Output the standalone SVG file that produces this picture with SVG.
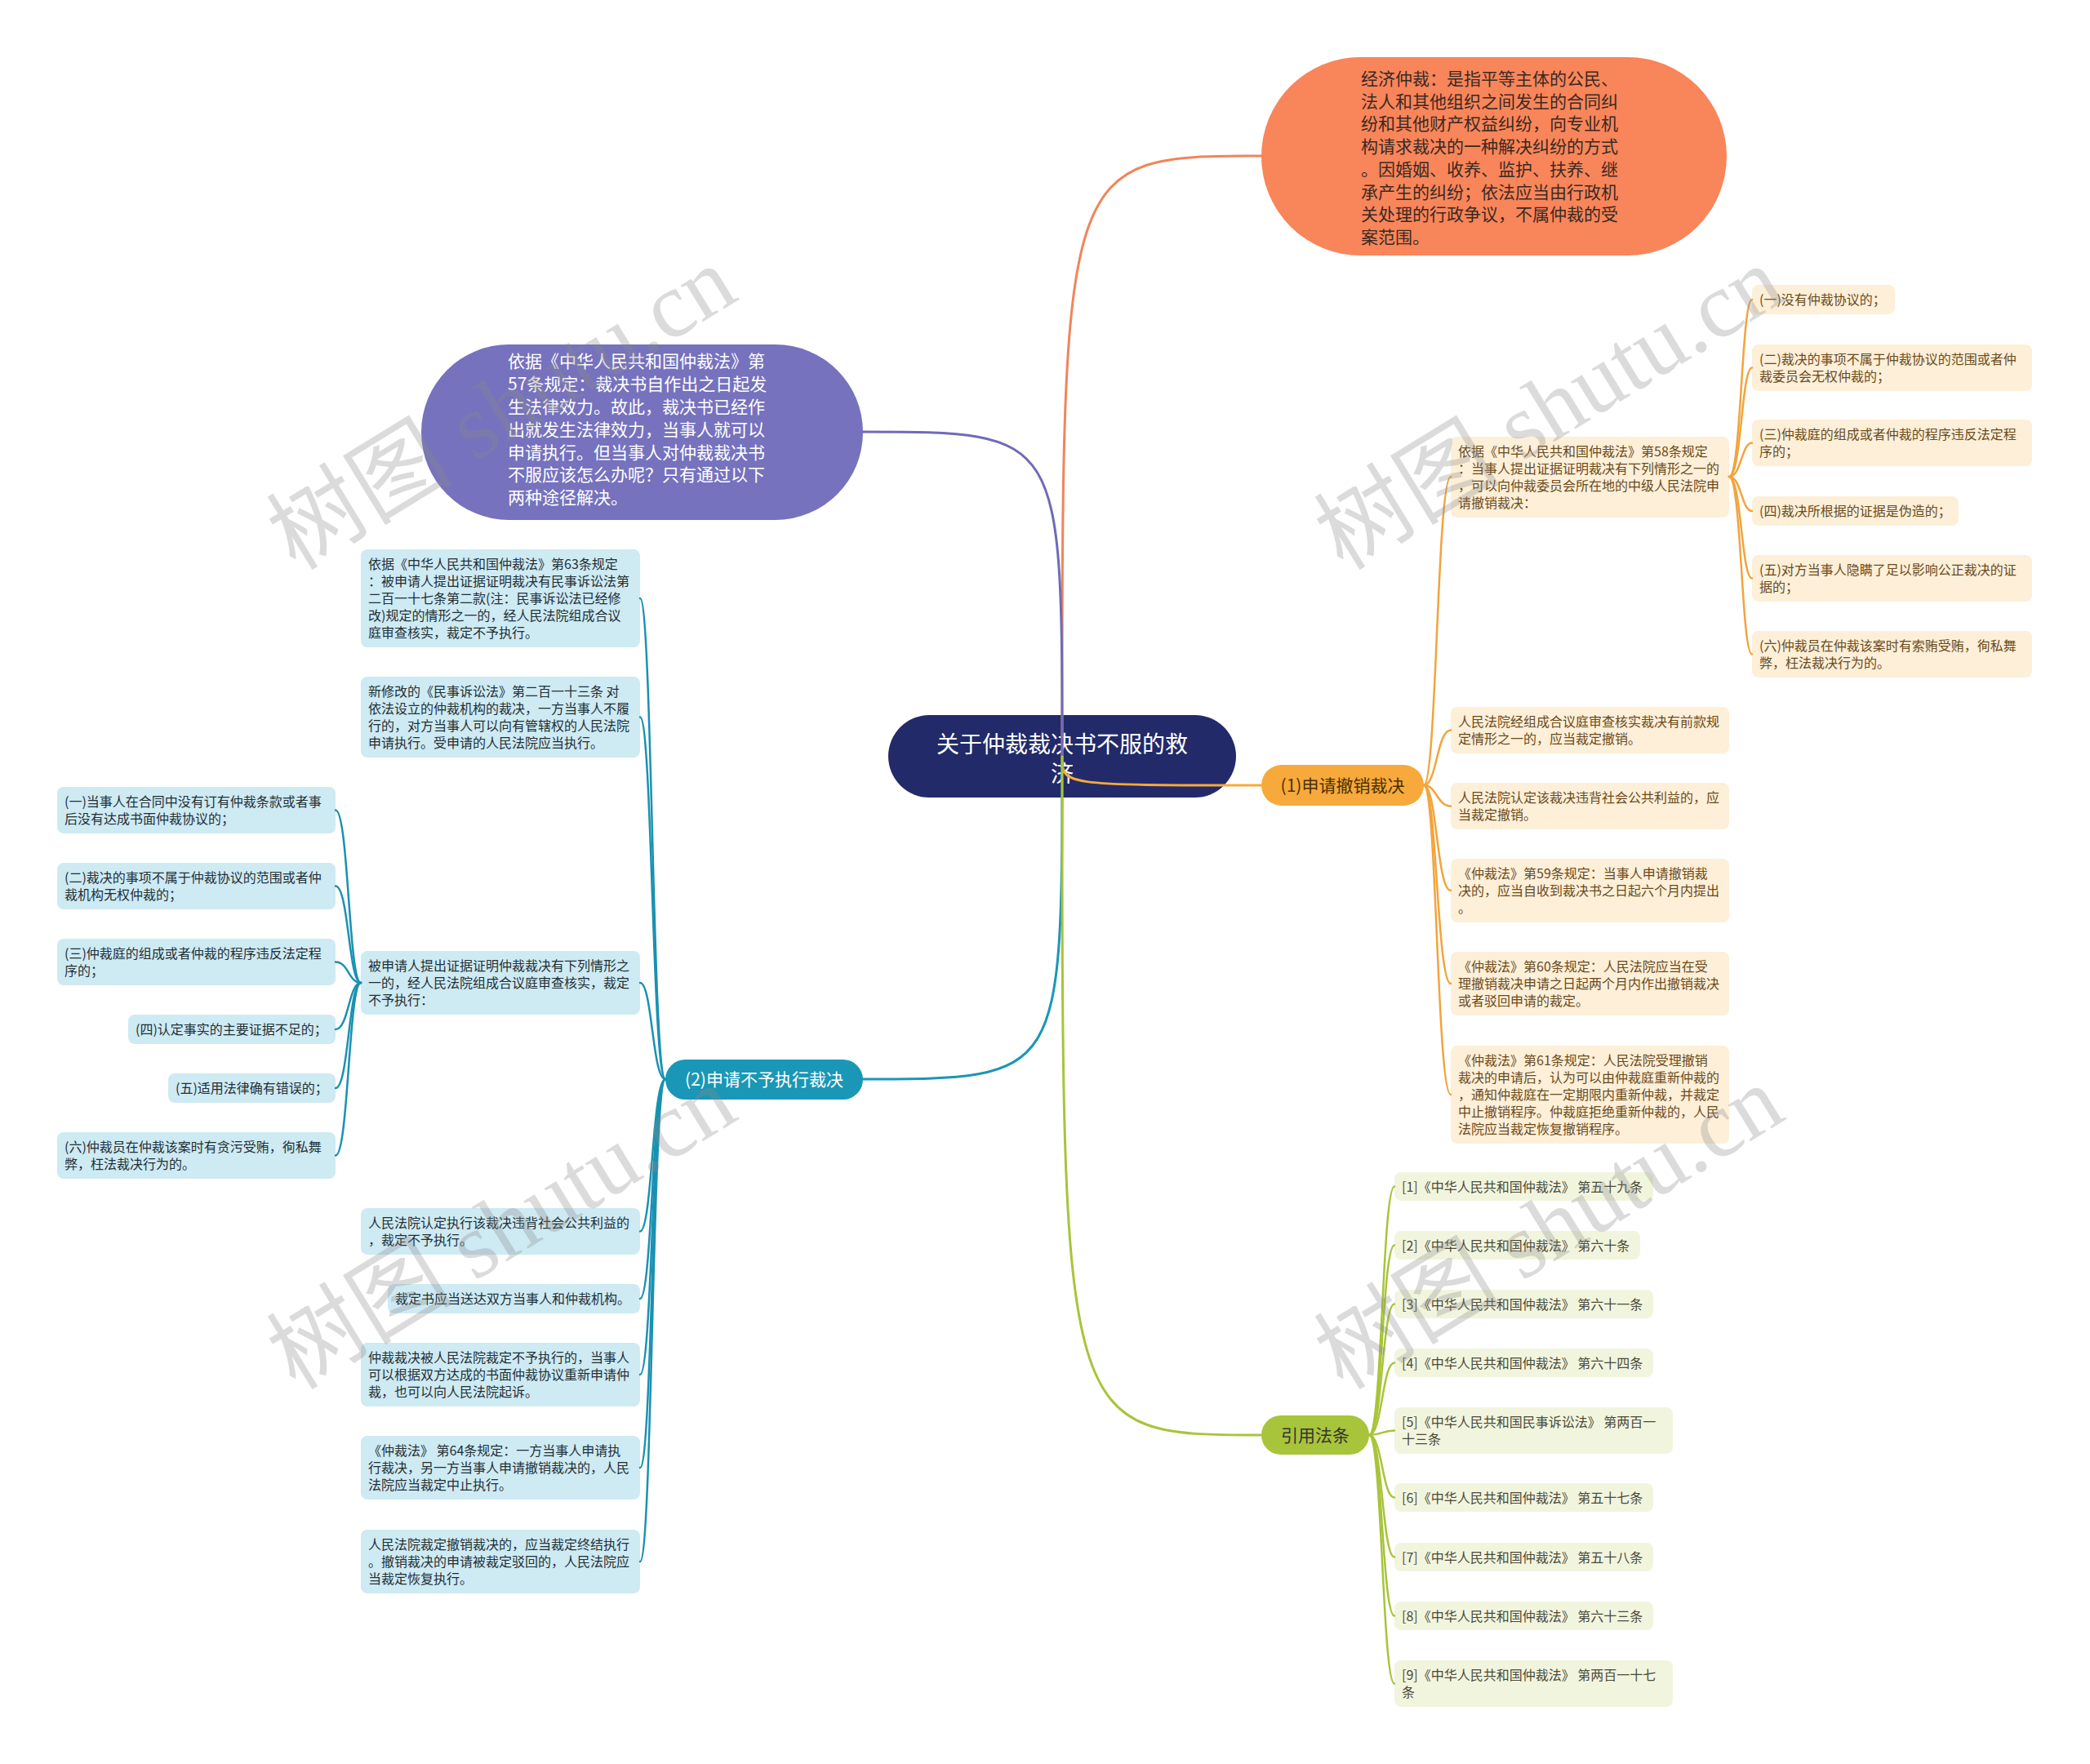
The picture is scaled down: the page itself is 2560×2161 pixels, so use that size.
<svg xmlns="http://www.w3.org/2000/svg" width="2560" height="2161" viewBox="0 0 2560 2161">
<style>
text{font-family:"Noto Sans CJK SC","Noto Sans",sans-serif}
.big{font-size:21px}
.lf{font-size:16px}
.lo{fill:#FDEFD8}.lb{fill:#CEEAF3}.lg{fill:#F2F5DE}
.to{fill:#6A4A1C}.tb{fill:#1F2F36}.tg{fill:#4A4A38}
.c{fill:none;stroke-width:2.5;stroke-linecap:round}
.co{stroke:#F2A43C}.cb{stroke:#1A91B2}.cg{stroke:#A8C43A}
.r{fill:none;stroke-width:3;stroke-linecap:round}
.wm{font-family:"Liberation Serif","Noto Sans CJK SC",serif;font-size:114px;fill:#8a8a8a;opacity:.3}
</style>
<rect width="2560" height="2161" fill="#fff"/>

<g id="root">
<rect x="1088" y="876" width="426" height="101" rx="50.5" fill="#222A6A"/>
<text x="1301" y="922" font-size="28" fill="#fff" text-anchor="middle">关于仲裁裁决书不服的救</text>
<text x="1301" y="958" font-size="28" fill="#fff" text-anchor="middle">济</text>
</g>

<g id="n-economic">
<rect x="1545" y="70" width="570" height="243" rx="121.5" fill="#F9855A"/>
<text class="big" fill="#3A2A22">
<tspan x="1667" y="104">经济仲裁：是指平等主体的公民、</tspan>
<tspan x="1667" y="131.7">法人和其他组织之间发生的合同纠</tspan>
<tspan x="1667" y="159.4">纷和其他财产权益纠纷，向专业机</tspan>
<tspan x="1667" y="187.1">构请求裁决的一种解决纠纷的方式</tspan>
<tspan x="1667" y="214.8">。因婚姻、收养、监护、扶养、继</tspan>
<tspan x="1667" y="242.5">承产生的纠纷；依法应当由行政机</tspan>
<tspan x="1667" y="270.2">关处理的行政争议，不属仲裁的受</tspan>
<tspan x="1667" y="297.9">案范围。</tspan>
</text>
</g>

<g id="n-basis">
<rect x="516" y="422" width="541" height="215" rx="107.5" fill="#7672BD"/>
<text class="big" fill="#fff">
<tspan x="622" y="450">依据《中华人民共和国仲裁法》第</tspan>
<tspan x="622" y="478">57条规定：裁决书自作出之日起发</tspan>
<tspan x="622" y="506">生法律效力。故此，裁决书已经作</tspan>
<tspan x="622" y="534">出就发生法律效力，当事人就可以</tspan>
<tspan x="622" y="562">申请执行。但当事人对仲裁裁决书</tspan>
<tspan x="622" y="589">不服应该怎么办呢？只有通过以下</tspan>
<tspan x="622" y="617">两种途径解决。</tspan>
</text>
</g>

<g id="n-revoke">
<rect x="1545" y="937" width="199" height="50" rx="25" fill="#F7A93C"/>
<text class="big" x="1644.5" y="969.5" text-anchor="middle" fill="#4A3000">(1)申请撤销裁决</text>
</g>

<g id="n-noexec">
<rect x="815" y="1298" width="242" height="49" rx="24.5" fill="#1A97B6"/>
<text class="big" x="936" y="1329.5" text-anchor="middle" fill="#fff">(2)申请不予执行裁决</text>
</g>

<g id="n-cite">
<rect x="1545" y="1734" width="132" height="48" rx="24" fill="#A8C43A"/>
<text class="big" x="1611" y="1765.5" text-anchor="middle" fill="#333">引用法条</text>
</g>

<!-- orange leaves -->
<g id="o-a"><rect class="lo" x="1777" y="535" width="341" height="99" rx="8"/>
<text class="lf to"><tspan x="1786" y="559">依据《中华人民共和国仲裁法》第58条规定</tspan><tspan x="1786" y="580">：当事人提出证据证明裁决有下列情形之一的</tspan><tspan x="1786" y="601">，可以向仲裁委员会所在地的中级人民法院申</tspan><tspan x="1786" y="622">请撤销裁决：</tspan></text></g>
<g id="o-a1"><rect class="lo" x="2146" y="349" width="175" height="36" rx="8"/>
<text class="lf to" x="2155" y="373">(一)没有仲裁协议的；</text></g>
<g id="o-a2"><rect class="lo" x="2146" y="422" width="343" height="57" rx="8"/>
<text class="lf to"><tspan x="2155" y="446">(二)裁决的事项不属于仲裁协议的范围或者仲</tspan><tspan x="2155" y="467">裁委员会无权仲裁的；</tspan></text></g>
<g id="o-a3"><rect class="lo" x="2146" y="514" width="343" height="57" rx="8"/>
<text class="lf to"><tspan x="2155" y="538">(三)仲裁庭的组成或者仲裁的程序违反法定程</tspan><tspan x="2155" y="559">序的；</tspan></text></g>
<g id="o-a4"><rect class="lo" x="2146" y="608" width="253" height="36" rx="8"/>
<text class="lf to" x="2155" y="632">(四)裁决所根据的证据是伪造的；</text></g>
<g id="o-a5"><rect class="lo" x="2146" y="680" width="343" height="57" rx="8"/>
<text class="lf to"><tspan x="2155" y="704">(五)对方当事人隐瞒了足以影响公正裁决的证</tspan><tspan x="2155" y="725">据的；</tspan></text></g>
<g id="o-a6"><rect class="lo" x="2146" y="773" width="343" height="57" rx="8"/>
<text class="lf to"><tspan x="2155" y="797">(六)仲裁员在仲裁该案时有索贿受贿，徇私舞</tspan><tspan x="2155" y="818">弊，枉法裁决行为的。</tspan></text></g>
<g id="o-b"><rect class="lo" x="1777" y="866" width="341" height="57" rx="8"/>
<text class="lf to"><tspan x="1786" y="890">人民法院经组成合议庭审查核实裁决有前款规</tspan><tspan x="1786" y="911">定情形之一的，应当裁定撤销。</tspan></text></g>
<g id="o-c"><rect class="lo" x="1777" y="959" width="341" height="57" rx="8"/>
<text class="lf to"><tspan x="1786" y="983">人民法院认定该裁决违背社会公共利益的，应</tspan><tspan x="1786" y="1004">当裁定撤销。</tspan></text></g>
<g id="o-d"><rect class="lo" x="1777" y="1052" width="341" height="78" rx="8"/>
<text class="lf to"><tspan x="1786" y="1076">《仲裁法》第59条规定：当事人申请撤销裁</tspan><tspan x="1786" y="1097">决的，应当自收到裁决书之日起六个月内提出</tspan><tspan x="1786" y="1118">。</tspan></text></g>
<g id="o-e"><rect class="lo" x="1777" y="1166" width="341" height="78" rx="8"/>
<text class="lf to"><tspan x="1786" y="1190">《仲裁法》第60条规定：人民法院应当在受</tspan><tspan x="1786" y="1211">理撤销裁决申请之日起两个月内作出撤销裁决</tspan><tspan x="1786" y="1232">或者驳回申请的裁定。</tspan></text></g>
<g id="o-f"><rect class="lo" x="1777" y="1281" width="341" height="120" rx="8"/>
<text class="lf to"><tspan x="1786" y="1305">《仲裁法》第61条规定：人民法院受理撤销</tspan><tspan x="1786" y="1326">裁决的申请后，认为可以由仲裁庭重新仲裁的</tspan><tspan x="1786" y="1347">，通知仲裁庭在一定期限内重新仲裁，并裁定</tspan><tspan x="1786" y="1368">中止撤销程序。仲裁庭拒绝重新仲裁的，人民</tspan><tspan x="1786" y="1389">法院应当裁定恢复撤销程序。</tspan></text></g>

<!-- blue leaves -->
<g id="b-1"><rect class="lb" x="442" y="673" width="342" height="120" rx="8"/>
<text class="lf tb"><tspan x="451" y="697">依据《中华人民共和国仲裁法》第63条规定</tspan><tspan x="451" y="718">：被申请人提出证据证明裁决有民事诉讼法第</tspan><tspan x="451" y="739">二百一十七条第二款(注：民事诉讼法已经修</tspan><tspan x="451" y="760">改)规定的情形之一的，经人民法院组成合议</tspan><tspan x="451" y="781">庭审查核实，裁定不予执行。</tspan></text></g>
<g id="b-2"><rect class="lb" x="442" y="829" width="342" height="99" rx="8"/>
<text class="lf tb"><tspan x="451" y="853">新修改的《民事诉讼法》第二百一十三条 对</tspan><tspan x="451" y="874">依法设立的仲裁机构的裁决，一方当事人不履</tspan><tspan x="451" y="895">行的，对方当事人可以向有管辖权的人民法院</tspan><tspan x="451" y="916">申请执行。受申请的人民法院应当执行。</tspan></text></g>
<g id="b-3"><rect class="lb" x="442" y="1165" width="342" height="78" rx="8"/>
<text class="lf tb"><tspan x="451" y="1189">被申请人提出证据证明仲裁裁决有下列情形之</tspan><tspan x="451" y="1210">一的，经人民法院组成合议庭审查核实，裁定</tspan><tspan x="451" y="1231">不予执行：</tspan></text></g>
<g id="b-3a"><rect class="lb" x="70" y="964" width="341" height="57" rx="8"/>
<text class="lf tb"><tspan x="79" y="988">(一)当事人在合同中没有订有仲裁条款或者事</tspan><tspan x="79" y="1009">后没有达成书面仲裁协议的；</tspan></text></g>
<g id="b-3b"><rect class="lb" x="70" y="1057" width="341" height="57" rx="8"/>
<text class="lf tb"><tspan x="79" y="1081">(二)裁决的事项不属于仲裁协议的范围或者仲</tspan><tspan x="79" y="1102">裁机构无权仲裁的；</tspan></text></g>
<g id="b-3c"><rect class="lb" x="70" y="1150" width="341" height="57" rx="8"/>
<text class="lf tb"><tspan x="79" y="1174">(三)仲裁庭的组成或者仲裁的程序违反法定程</tspan><tspan x="79" y="1195">序的；</tspan></text></g>
<g id="b-3d"><rect class="lb" x="157" y="1243" width="254" height="36" rx="8"/>
<text class="lf tb" x="166" y="1267">(四)认定事实的主要证据不足的；</text></g>
<g id="b-3e"><rect class="lb" x="206" y="1315" width="205" height="36" rx="8"/>
<text class="lf tb" x="215" y="1339">(五)适用法律确有错误的；</text></g>
<g id="b-3f"><rect class="lb" x="70" y="1387" width="341" height="57" rx="8"/>
<text class="lf tb"><tspan x="79" y="1411">(六)仲裁员在仲裁该案时有贪污受贿，徇私舞</tspan><tspan x="79" y="1432">弊，枉法裁决行为的。</tspan></text></g>
<g id="b-4"><rect class="lb" x="442" y="1480" width="342" height="57" rx="8"/>
<text class="lf tb"><tspan x="451" y="1504">人民法院认定执行该裁决违背社会公共利益的</tspan><tspan x="451" y="1525">，裁定不予执行。</tspan></text></g>
<g id="b-5"><rect class="lb" x="475" y="1573" width="309" height="36" rx="8"/>
<text class="lf tb" x="484" y="1597">裁定书应当送达双方当事人和仲裁机构。</text></g>
<g id="b-6"><rect class="lb" x="442" y="1645" width="342" height="78" rx="8"/>
<text class="lf tb"><tspan x="451" y="1669">仲裁裁决被人民法院裁定不予执行的，当事人</tspan><tspan x="451" y="1690">可以根据双方达成的书面仲裁协议重新申请仲</tspan><tspan x="451" y="1711">裁，也可以向人民法院起诉。</tspan></text></g>
<g id="b-7"><rect class="lb" x="442" y="1759" width="342" height="78" rx="8"/>
<text class="lf tb"><tspan x="451" y="1783">《仲裁法》 第64条规定：一方当事人申请执</tspan><tspan x="451" y="1804">行裁决，另一方当事人申请撤销裁决的，人民</tspan><tspan x="451" y="1825">法院应当裁定中止执行。</tspan></text></g>
<g id="b-8"><rect class="lb" x="442" y="1874" width="342" height="78" rx="8"/>
<text class="lf tb"><tspan x="451" y="1898">人民法院裁定撤销裁决的，应当裁定终结执行</tspan><tspan x="451" y="1919">。撤销裁决的申请被裁定驳回的，人民法院应</tspan><tspan x="451" y="1940">当裁定恢复执行。</tspan></text></g>

<!-- green leaves -->
<g id="g-1"><rect class="lg" x="1708" y="1436" width="317" height="35" rx="8"/><text class="lf tg" x="1717" y="1459.5">[1]《中华人民共和国仲裁法》 第五十九条</text></g>
<g id="g-2"><rect class="lg" x="1708" y="1508" width="301" height="35" rx="8"/><text class="lf tg" x="1717" y="1531.5">[2]《中华人民共和国仲裁法》 第六十条</text></g>
<g id="g-3"><rect class="lg" x="1708" y="1580" width="317" height="35" rx="8"/><text class="lf tg" x="1717" y="1603.5">[3]《中华人民共和国仲裁法》 第六十一条</text></g>
<g id="g-4"><rect class="lg" x="1708" y="1652" width="317" height="35" rx="8"/><text class="lf tg" x="1717" y="1675.5">[4]《中华人民共和国仲裁法》 第六十四条</text></g>
<g id="g-5"><rect class="lg" x="1708" y="1724" width="341" height="57" rx="8"/><text class="lf tg"><tspan x="1717" y="1748">[5]《中华人民共和国民事诉讼法》 第两百一</tspan><tspan x="1717" y="1769">十三条</tspan></text></g>
<g id="g-6"><rect class="lg" x="1708" y="1817" width="317" height="35" rx="8"/><text class="lf tg" x="1717" y="1840.5">[6]《中华人民共和国仲裁法》 第五十七条</text></g>
<g id="g-7"><rect class="lg" x="1708" y="1890" width="317" height="35" rx="8"/><text class="lf tg" x="1717" y="1913.5">[7]《中华人民共和国仲裁法》 第五十八条</text></g>
<g id="g-8"><rect class="lg" x="1708" y="1962" width="317" height="35" rx="8"/><text class="lf tg" x="1717" y="1985.5">[8]《中华人民共和国仲裁法》 第六十三条</text></g>
<g id="g-9"><rect class="lg" x="1708" y="2034" width="341" height="57" rx="8"/><text class="lf tg"><tspan x="1717" y="2058">[9]《中华人民共和国仲裁法》 第两百一十七</tspan><tspan x="1717" y="2079">条</tspan></text></g>

<g id="connectors">
<path class="r" stroke="#F0855A" d="M1301,927 C1301,191 1301,191 1545,191"/>
<path class="r" stroke="#6F6BB6" d="M1301,927 C1301,529 1301,529 1057,529"/>
<path class="r" stroke="#F7A93C" d="M1301,927 C1301,962 1301,962 1545,962"/>
<path class="r" stroke="#1A97B6" d="M1301,927 C1301,1322 1301,1322 1057,1322"/>
<path class="r" stroke="#A8C43A" d="M1301,927 C1301,1758 1301,1758 1545,1758"/>

<path class="c co" d="M1744,962 C1760,962 1760,584 1777,584"/>
<path class="c co" d="M1744,962 C1760,962 1760,894.5 1777,894.5"/>
<path class="c co" d="M1744,962 C1760,962 1760,987.5 1777,987.5"/>
<path class="c co" d="M1744,962 C1760,962 1760,1091 1777,1091"/>
<path class="c co" d="M1744,962 C1760,962 1760,1205 1777,1205"/>
<path class="c co" d="M1744,962 C1760,962 1760,1341 1777,1341"/>

<path class="c co" d="M2118,584 C2133,584 2133,367 2146,367"/>
<path class="c co" d="M2118,584 C2133,584 2133,450.5 2146,450.5"/>
<path class="c co" d="M2118,584 C2133,584 2133,542.5 2146,542.5"/>
<path class="c co" d="M2118,584 C2133,584 2133,626 2146,626"/>
<path class="c co" d="M2118,584 C2133,584 2133,708.5 2146,708.5"/>
<path class="c co" d="M2118,584 C2133,584 2133,801.5 2146,801.5"/>

<path class="c cb" d="M815,1322 C799,1322 799,733 784,733"/>
<path class="c cb" d="M815,1322 C799,1322 799,878.5 784,878.5"/>
<path class="c cb" d="M815,1322 C799,1322 799,1204 784,1204"/>
<path class="c cb" d="M815,1322 C799,1322 799,1508.5 784,1508.5"/>
<path class="c cb" d="M815,1322 C799,1322 799,1591 784,1591"/>
<path class="c cb" d="M815,1322 C799,1322 799,1684 784,1684"/>
<path class="c cb" d="M815,1322 C799,1322 799,1798 784,1798"/>
<path class="c cb" d="M815,1322 C799,1322 799,1913 784,1913"/>

<path class="c cb" d="M442,1204 C427,1204 427,992.5 411,992.5"/>
<path class="c cb" d="M442,1204 C427,1204 427,1085.5 411,1085.5"/>
<path class="c cb" d="M442,1204 C427,1204 427,1178.5 411,1178.5"/>
<path class="c cb" d="M442,1204 C427,1204 427,1261 411,1261"/>
<path class="c cb" d="M442,1204 C427,1204 427,1333 411,1333"/>
<path class="c cb" d="M442,1204 C427,1204 427,1415.5 411,1415.5"/>

<path class="c cg" d="M1677,1758 C1693,1758 1693,1453.5 1708,1453.5"/>
<path class="c cg" d="M1677,1758 C1693,1758 1693,1525.5 1708,1525.5"/>
<path class="c cg" d="M1677,1758 C1693,1758 1693,1597.5 1708,1597.5"/>
<path class="c cg" d="M1677,1758 C1693,1758 1693,1669.5 1708,1669.5"/>
<path class="c cg" d="M1677,1758 C1693,1758 1693,1752.5 1708,1752.5"/>
<path class="c cg" d="M1677,1758 C1693,1758 1693,1834.5 1708,1834.5"/>
<path class="c cg" d="M1677,1758 C1693,1758 1693,1907.5 1708,1907.5"/>
<path class="c cg" d="M1677,1758 C1693,1758 1693,1979.5 1708,1979.5"/>
<path class="c cg" d="M1677,1758 C1693,1758 1693,2062.5 1708,2062.5"/>
</g>

<g id="watermarks">
<text class="wm" x="362" y="700" transform="rotate(-31.5 362 700)">树图 shutu.cn</text>
<text class="wm" x="1645" y="700" transform="rotate(-31.5 1645 700)">树图 shutu.cn</text>
<text class="wm" x="362" y="1704" transform="rotate(-31.5 362 1704)">树图 shutu.cn</text>
<text class="wm" x="1645" y="1704" transform="rotate(-31.5 1645 1704)">树图 shutu.cn</text>
</g>
</svg>
